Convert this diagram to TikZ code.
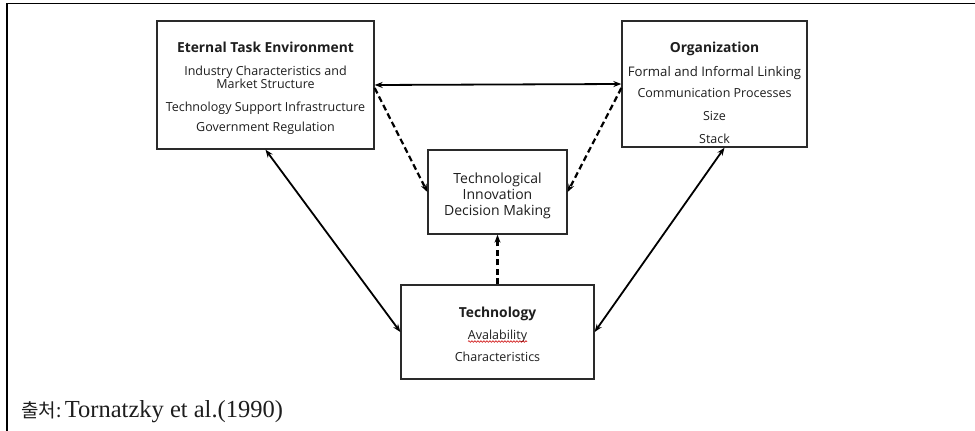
\documentclass[tikz,border=0pt]{standalone}
\usepackage{fontspec}
\setmainfont{Open Sans}
\newfontfamily\capserif{Liberation Serif}
\newfontfamily\capkr{Noto Sans CJK KR}
\usetikzlibrary{arrows.meta,decorations.pathmorphing}
\definecolor{ink}{HTML}{1E1E1E}
\definecolor{frame}{HTML}{2A2A2A}
\tikzset{
  box/.style={draw=frame, line width=1.3pt, rectangle, inner sep=0pt, fill=white},
  txt/.style={align=center, text=ink, inner sep=0pt, font=\fontsize{12.5}{13.5}\selectfont},
  ttl/.style={font=\fontsize{13.8}{14}\selectfont\bfseries},
  tip/.style={-{Stealth[length=8pt,width=6pt]}},
  both/.style={{Stealth[length=8pt,width=6pt]}-{Stealth[length=8pt,width=6pt]}},
  solidline/.style={draw=black, line width=1.8pt},
  dashline/.style={draw=black, line width=2.2pt, dash pattern=on 6pt off 3.5pt},
}
\begin{document}
\begin{tikzpicture}[x=1pt,y=-1pt]
\useasboundingbox (0,0) rectangle (975,431);
\fill[white] (0,0) rectangle (975,431);
% outer frame (top and left only)
\draw[black, line width=1.6pt] (975,3.5) -- (7,3.5) -- (7,431);

% boxes
\node[box, minimum width=217pt, minimum height=128pt] (ete) at (265.5,85) {};
\node[box, minimum width=185pt, minimum height=126pt] (org) at (714.5,84) {};
\node[box, minimum width=139pt, minimum height=84pt] (tidm) at (497.5,192) {};
\node[box, minimum width=193pt, minimum height=94pt] (tech) at (497.5,332) {};

% texts (anchored at the baseline of their last line)
\node[txt, anchor=base] (eteT) at (265.5,131.5) {{\fontsize{13.8}{14}\selectfont\bfseries Eternal Task Environment}\\[9.5pt]
Industry Characteristics and\\
Market Structure\\[9.5pt]
Technology Support Infrastructure\\[6.5pt]
Government Regulation};

\node[txt, anchor=base] (orgT) at (714.5,143.5) {{\fontsize{13.8}{14}\selectfont\bfseries Organization}\\[10.5pt]
{\fontsize{13.2}{14}\selectfont Formal and Informal Linking}\\[7.5pt]
Communication Processes\\[9.5pt]
Size\\[9.5pt]
Stack};

\node[txt, anchor=base, font=\fontsize{14}{16}\selectfont] (tidmT) at (497.5,215) {Technological\\
Innovation\\
Decision Making};

\node[txt, anchor=base] (techT) at (497.5,361.5) {{\fontsize{13.8}{14}\selectfont\bfseries Technology}\\[8.5pt]
Avalability\\[8.5pt]
Characteristics};
\coordinate (squigA) at (468,341.5);
\coordinate (squigB) at (527,341.5);
\draw[red!80!black, line width=0.6pt, decorate, decoration={snake, amplitude=0.8pt, segment length=3pt}] (squigA) -- (squigB);

% connectors
\draw[solidline, both] (ete.east) -- (org.west);
\draw[dashline, tip] ([yshift=-3pt]ete.east) -- (tidm.west);
\draw[dashline, tip] ([yshift=-4pt]org.west) -- (tidm.east);
\draw[dashline, tip] (tech.north) -- (tidm.south);
\draw[solidline, both] (ete.south) -- (tech.west);
\draw[solidline, both] (tech.east) -- ([xshift=10pt]org.south);

% caption
\node[anchor=base west, inner sep=0pt, text=ink] (cap) at (21,417) {{\capkr\fontsize{19}{22}\selectfont 출처:} {\capserif\fontsize{24.5}{28}\selectfont Tornatzky et al.(1990)}};
\end{tikzpicture}
\end{document}
